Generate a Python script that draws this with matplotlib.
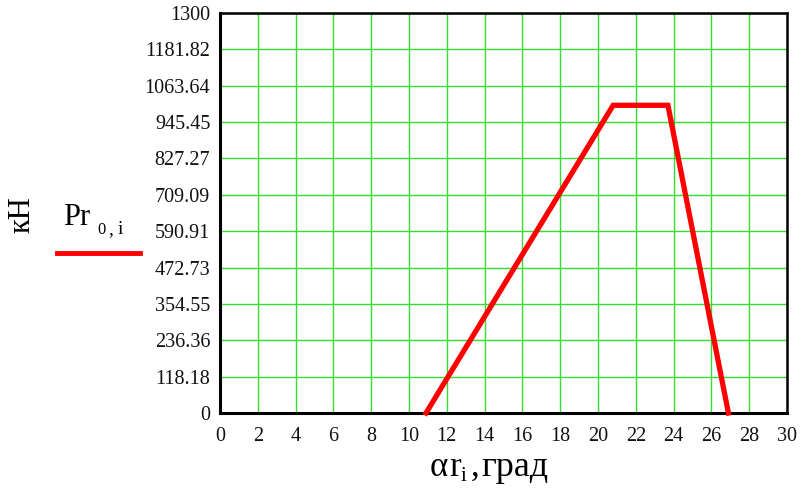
import matplotlib
matplotlib.use("Agg")
import matplotlib.pyplot as plt

# Radial load versus angle
alpha_deg = [10.9, 20.8, 23.7, 26.9]
load_kN = [0, 1000, 1000, 0]

x_ticks = list(range(0, 31, 2))
y_max = 1300
y_ticks = [y_max * k / 11 for k in range(12)]


def fmt(v):
    return f"{v:.2f}".rstrip("0").rstrip(".")


plt.rcParams["font.family"] = ["Liberation Serif", "DejaVu Serif"]

fig = plt.figure(figsize=(8.01, 5.0), dpi=100)
ax = fig.add_axes([220 / 801, 87 / 500, 567 / 801, 400 / 500])

ax.plot(alpha_deg, load_kN, color="#ff0000", lw=3.8, solid_joinstyle="miter",
        zorder=3, clip_on=False)

ax.set_xlim(0, 30)
ax.set_ylim(0, y_max)
ax.set_xticks(x_ticks)
ax.set_xticklabels([str(t) for t in x_ticks])
ax.set_yticks(y_ticks)
ax.set_yticklabels([fmt(v) for v in y_ticks])
ax.grid(True, color="#33dd33", lw=1.0)
ax.set_axisbelow(True)
ax.tick_params(length=0, labelsize=14.5, colors="#111111")
ax.tick_params(axis="y", pad=7)
ax.tick_params(axis="x", pad=10)
for side, sp in ax.spines.items():
    sp.set_color("black")
    sp.set_linewidth(2.2 if side in ("left", "bottom") else 1.8)

# y axis title
fig.text(22 / 801, 1 - 215 / 500, "кН", rotation=90, fontsize=22,
         ha="center", va="center")


def put(x, y, s, size):
    fig.text(x / 801, 1 - y / 500, s, fontsize=size, ha="left", va="baseline")


# x axis title: αr_i ,град
put(430, 476, "α", 25)
put(449, 476, "r", 25)
put(461, 481, "i", 15)
put(471, 476, ",", 25)
put(481, 476, "град", 26)

# legend entry
put(63, 225, "Pr", 22)
put(97, 234, "0", 12)
put(108, 234, ",", 14)
put(118, 234, "i", 14)
fig.add_artist(plt.Line2D([57 / 801, 140 / 801], [1 - 253 / 500, 1 - 253 / 500],
                          transform=fig.transFigure, color="#ff0000", lw=3.5))

fig.savefig("out.png", dpi=100)
